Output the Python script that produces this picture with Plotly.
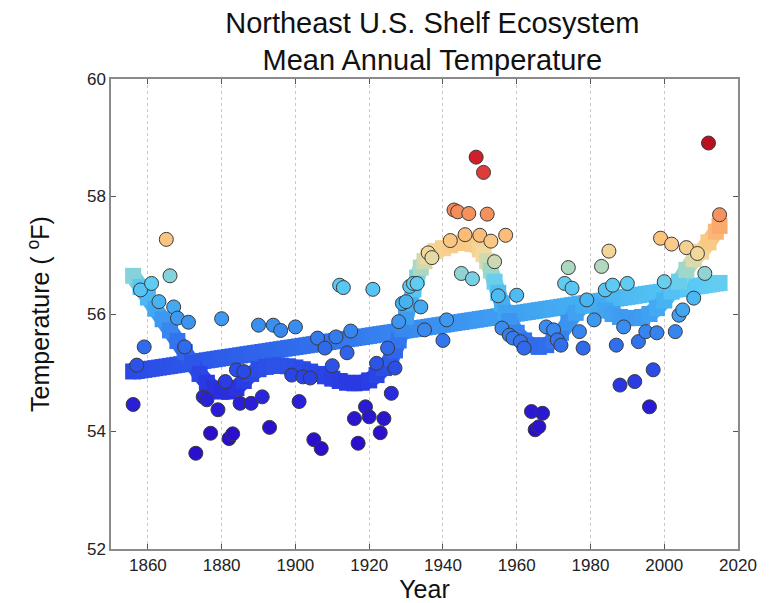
import numpy as np
import plotly.graph_objects as go
from plotly.colors import sample_colorscale

# Annual mean temperature (deg F), Northeast U.S. Shelf
years = [1856, 1857, 1858, 1859, 1861, 1863, 1865, 1866, 1867, 1868, 1870, 1871,
         1873, 1875, 1876, 1877, 1879, 1880, 1881, 1882, 1883, 1884, 1885, 1886,
         1888, 1890, 1891, 1893, 1894, 1896, 1899, 1900, 1901, 1902, 1904, 1905,
         1906, 1907, 1908, 1910, 1911, 1912, 1913, 1914, 1915, 1916, 1917, 1919,
         1920, 1921, 1922, 1923, 1924, 1925, 1926, 1927, 1928, 1929, 1930, 1931,
         1932, 1933, 1934, 1935, 1936, 1937, 1940, 1941, 1942, 1943, 1944, 1945,
         1946, 1947, 1948, 1949, 1950, 1951, 1952, 1953, 1954, 1955, 1956, 1957,
         1958, 1959, 1960, 1961, 1962, 1964, 1965, 1966, 1967, 1968, 1970, 1971,
         1972, 1973, 1974, 1975, 1977, 1978, 1979, 1981, 1983, 1984, 1985, 1986,
         1987, 1988, 1989, 1990, 1992, 1993, 1995, 1996, 1997, 1998, 1999, 2000,
         2002, 2003, 2004, 2005, 2006, 2008, 2009, 2011, 2012, 2015]
temps = [54.46, 55.13, 56.41, 55.44, 56.52, 56.21, 57.27, 56.65, 56.12, 55.93, 55.44, 55.86,
         53.63, 54.59, 54.54, 53.97, 54.37, 55.92, 54.85, 53.88, 53.96, 55.05, 54.48, 55.02,
         54.48, 55.81, 54.59, 54.07, 55.81, 55.72, 54.96, 55.78, 54.51, 54.93, 54.91, 53.86,
         55.59, 53.71, 55.42, 55.12, 55.61, 56.49, 56.45, 55.34, 55.71, 54.22, 53.80, 54.42,
         54.25, 56.42, 55.16, 53.98, 54.22, 55.42, 54.65, 55.08, 55.87, 56.18, 56.21, 56.47,
         56.52, 56.52, 56.12, 55.73, 57.04, 56.96, 55.55, 55.90, 57.25, 57.77, 57.74, 56.69,
         57.35, 57.71, 56.60, 58.67, 57.34, 58.41, 57.70, 57.24, 56.89, 56.31, 55.76, 57.34,
         55.64, 55.59, 56.32, 55.53, 55.42, 54.34, 54.03, 54.08, 54.31, 55.78, 55.73, 55.56,
         55.47, 56.52, 56.79, 56.44, 55.70, 55.42, 56.24, 55.90, 56.81, 56.41, 57.07, 56.49,
         55.47, 54.79, 55.78, 56.52, 54.85, 55.53, 55.70, 54.42, 55.05, 55.68, 57.29, 56.55,
         57.19, 55.70, 55.98, 56.07, 57.13, 56.27, 57.03, 56.69, 58.91, 57.69]

# Smoothed (low-pass) temperature curve
smooth_years = [1856, 1858, 1860, 1862, 1864, 1866, 1868, 1870, 1872, 1874, 1876, 1878,
                1880, 1882, 1884, 1886, 1888, 1890, 1892, 1894, 1896, 1898, 1900, 1902,
                1904, 1906, 1908, 1910, 1912, 1914, 1916, 1918, 1920, 1922, 1924, 1926,
                1927, 1928, 1929, 1930, 1931, 1932, 1933, 1934, 1935, 1936, 1938, 1940,
                1942, 1944, 1946, 1948, 1950, 1951, 1952, 1953, 1954, 1955, 1956, 1957,
                1958, 1960, 1962, 1964, 1966, 1968, 1970, 1972, 1974, 1976, 1978, 1980,
                1982, 1984, 1986, 1988, 1990, 1992, 1994, 1996, 1998, 2000, 2002, 2004,
                2006, 2008, 2010, 2012, 2014, 2015]
smooth_vals = [56.65, 56.46, 56.28, 56.09, 55.91, 55.72, 55.54, 55.35, 55.17, 54.98, 54.83, 54.73,
               54.68, 54.68, 54.74, 54.86, 54.98, 55.06, 55.10, 55.12, 55.12, 55.11, 55.09, 55.06,
               55.02, 54.98, 54.94, 54.90, 54.86, 54.83, 54.82, 54.83, 54.87, 54.96, 55.08, 55.25,
               55.38, 55.55, 55.74, 55.95, 56.18, 56.42, 56.62, 56.79, 56.90, 56.98, 57.07, 57.12,
               57.17, 57.21, 57.22, 57.19, 57.10, 57.02, 56.90, 56.74, 56.55, 56.36, 56.18, 56.02,
               55.88, 55.68, 55.55, 55.47, 55.44, 55.47, 55.55, 55.68, 55.85, 56.02, 56.14, 56.18,
               56.13, 56.06, 56.00, 55.95, 55.93, 55.93, 55.95, 56.00, 56.10, 56.23, 56.38, 56.55,
               56.75, 56.93, 57.06, 57.22, 57.40, 57.50]

x_ticks = [1860, 1880, 1900, 1920, 1940, 1960, 1980, 2000, 2020]
y_ticks = [52, 54, 56, 58, 60]

# colour ramp keyed to temperature
c_min, c_max = 54.0, 59.0
ramp = [(54.0, "#2a0fcc"), (54.5, "#2a1fd8"), (55.0, "#2a48e6"), (55.5, "#3170ec"),
        (55.8, "#3a8ff0"), (56.2, "#45b1f2"), (56.5, "#5ccbf5"), (56.75, "#9fd7c8"),
        (57.0, "#f2dba0"), (57.3, "#fcc27c"), (57.7, "#f6915e"), (58.3, "#e4473e"),
        (58.7, "#d01a28"), (59.0, "#b00a1a")]
colorscale = [[(t - c_min) / (c_max - c_min), c] for t, c in ramp]


def temp_color(v):
    f = min(max((v - c_min) / (c_max - c_min), 0.0), 1.0)
    return sample_colorscale(colorscale, [f])[0]


# least-squares linear trend, evaluated every year
yr = np.array(years, dtype=float)
tp = np.array(temps, dtype=float)
slope, icpt = np.polyfit(yr, tp, 1)
grid = np.arange(yr.min(), yr.max() + 1)
lin = slope * grid + icpt

BAND = 16
fig = go.Figure()


def add_band(xv, yv):
    xv = list(xv)
    yv = list(yv)
    # thick segments, each shaded by its mean temperature
    for i in range(len(xv) - 1):
        fig.add_trace(go.Scatter(
            x=[xv[i], xv[i + 1]], y=[yv[i], yv[i + 1]], mode="lines",
            hoverinfo="skip", showlegend=False,
            line=dict(width=BAND, color=temp_color((yv[i] + yv[i + 1]) / 2))))
    # square markers on every node
    fig.add_trace(go.Scatter(
        x=xv, y=yv, mode="markers", hoverinfo="skip", showlegend=False,
        marker=dict(symbol="square", size=BAND, color=yv, colorscale=colorscale,
                    cmin=c_min, cmax=c_max, line=dict(width=0))))


add_band(grid, lin)
add_band(smooth_years, smooth_vals)

fig.add_trace(go.Scatter(
    x=years, y=temps, mode="markers", showlegend=False,
    marker=dict(symbol="circle", size=14, color=temps, colorscale=colorscale,
                cmin=c_min, cmax=c_max, line=dict(width=1, color="#3a3a3a"))))

font_family = "Liberation Sans, Arial, sans-serif"
axis_common = dict(showline=True, linecolor="#8a8a8a", linewidth=1.5, mirror="ticks",
                   ticks="inside", ticklen=5, tickcolor="#555555", tickwidth=1,
                   tickfont=dict(family=font_family, size=17, color="#222222"),
                   zeroline=False, automargin=False)

fig.update_xaxes(range=[1850, 2020], tickvals=x_ticks, showgrid=True,
                 gridcolor="#c8c8c8", gridwidth=1, griddash="dot",
                 title=dict(text="Year", standoff=4,
                            font=dict(family=font_family, size=25, color="#111111")),
                 **axis_common)
fig.update_yaxes(range=[52, 60], tickvals=y_ticks, showgrid=False,
                 title=dict(text="Temperature ( <sup>o</sup>F)", standoff=30,
                            font=dict(family=font_family, size=25, color="#111111")),
                 **axis_common)

fig.update_layout(
    width=772, height=603,
    margin=dict(l=111, r=34, t=79, b=54),
    paper_bgcolor="white", plot_bgcolor="white",
    title=dict(text="Northeast U.S. Shelf Ecosystem<br>Mean Annual Temperature",
               x=0.56, xanchor="center", y=0.946, yanchor="middle",
               font=dict(family=font_family, size=29, color="#111111")),
)

fig.write_html("out.html")
